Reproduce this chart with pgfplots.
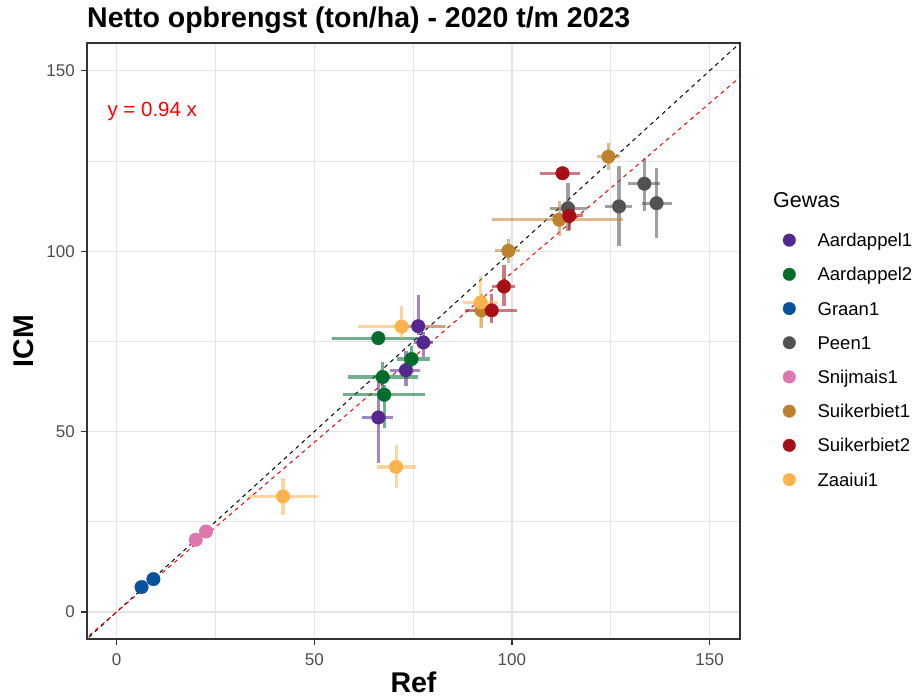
\documentclass[border=0pt]{standalone}
\usepackage{pgfplots}
\usepackage{pgfplotstable}
\pgfplotsset{compat=1.18}
\usepackage{fontspec}
\setmainfont{Liberation Sans}
\definecolor{cA1}{RGB}{84,39,143}
\definecolor{cA2}{RGB}{0,109,44}
\definecolor{cGr}{RGB}{8,81,156}
\definecolor{cPe}{RGB}{82,82,82}
\definecolor{cSn}{RGB}{222,119,174}
\definecolor{cS1}{RGB}{191,129,45}
\definecolor{cS2}{RGB}{165,15,21}
\definecolor{cZa}{RGB}{254,178,76}
\definecolor{tickgray}{RGB}{77,77,77}
\definecolor{axgray}{RGB}{51,51,51}
\definecolor{gridgray}{RGB}{228,228,228}

\pgfplotstableread{
x y xm xp ym yp
76.3 79.2 4.0 6.7 2.4 8.7
77.6 74.7 2.5 2.5 3.9 2.9
73.2 67.0 4.1 3.5 4.5 5.4
66.2 53.9 4.2 3.8 12.6 11.4
}\tAone
\pgfplotstableread{
x y xm xp ym yp
66.2 75.9 11.8 10.5 1.8 1.8
74.6 70.1 3.8 4.7 2.1 3.5
67.3 65.1 8.7 9.0 3.5 4.3
67.7 60.2 10.4 10.3 9.2 2.7
}\tAtwo
\pgfplotstableread{
x y xm xp ym yp
9.3 9.1 0.4 0.4 0.4 0.4
6.3 6.9 0.4 0.4 0.4 0.4
}\tGr
\pgfplotstableread{
x y xm xp ym yp
114.2 111.9 4.6 4.7 6.4 7.1
127.1 112.4 3.6 3.2 11.1 11.1
133.5 118.7 4.1 3.9 7.7 7.1
136.6 113.3 3.8 3.8 9.7 9.7
}\tPe
\pgfplotstableread{
x y xm xp ym yp
22.6 22.3 0.4 0.4 0.4 0.4
20.0 20.0 0.4 0.4 0.4 0.4
}\tSn
\pgfplotstableread{
x y xm xp ym yp
124.4 126.2 3.0 2.9 3.6 3.8
112.0 108.7 17.1 16.2 4.6 5.1
99.1 100.1 3.4 2.9 3.4 3.3
92.3 83.6 2.0 2.0 4.9 4.4
}\tSone
\pgfplotstableread{
x y xm xp ym yp
112.8 121.6 5.7 4.4 1.8 1.4
114.5 109.8 4.5 3.5 3.8 3.1
98.0 90.2 3.1 2.9 5.5 6.0
94.9 83.6 6.8 6.3 3.5 4.4
}\tStwo
\pgfplotstableread{
x y xm xp ym yp
72.1 79.1 11.0 11.2 3.1 5.6
70.7 40.2 4.9 5.0 5.8 6.2
42.1 32.0 8.8 8.9 5.0 5.1
92.1 85.8 4.4 4.4 7.0 7.2
}\tZa

\pgfplotsset{
  ebar/.style={only marks, mark=none, forget plot,
    error bars/.cd, x dir=both, y dir=both, x explicit, y explicit,
    error mark=none, error bar style={line width=3.2pt, #1, opacity=0.55, line cap=butt}},
  pts/.style={only marks, mark=*, mark size=6.8pt, forget plot,
    mark options={draw=#1, fill=#1, line width=0.3pt}},
  leg/.style={only marks, mark=*, mark size=6.3pt,
    mark options={draw=#1, fill=#1, line width=0.3pt}},
}

\begin{document}
\begin{tikzpicture}
\useasboundingbox (-87pt,-60pt) rectangle (827pt,639pt);
\begin{axis}[
  at={(0pt,0pt)}, anchor=south west,
  width=653pt, height=596pt, scale only axis,
  xmin=-7.5, xmax=157.7, ymin=-7.5, ymax=157.7,
  xtick={0,50,100,150}, ytick={0,50,100,150},
  minor xtick={25,75,125}, minor ytick={25,75,125},
  grid=both,
  major grid style={draw=gridgray, line width=1.3pt},
  minor grid style={draw=gridgray, line width=0.7pt},
  axis line style={draw=axgray, line width=1.2pt},
  tick style={draw=axgray, line width=1.2pt},
  tick align=outside, major tick length=6pt, minor tick length=0pt,
  tick pos=left,
  /pgf/number format/assume math mode=true,
  tick label style={font=\fontsize{17}{17}\selectfont, text=tickgray, inner sep=0pt},
  xticklabel style={anchor=base, yshift=-21pt},
  yticklabel style={anchor=east, xshift=-6pt},
  title={Netto opbrengst (ton/ha) - 2020 t/m 2023},
  title style={at={(axis description cs:0,1)}, anchor=base west, inner sep=0pt, yshift=9pt,
    font=\bfseries\fontsize{28.5}{28.5}\selectfont},
  xlabel={Ref}, ylabel={ICM},
  xlabel style={at={(axis description cs:0.5,0)}, anchor=base, inner sep=0pt, yshift=-54pt,
    font=\bfseries\fontsize{28.5}{28.5}\selectfont},
  ylabel style={at={(axis description cs:-0.08116,0.5)}, anchor=base, inner sep=0pt,
    font=\bfseries\fontsize{28.5}{28.5}\selectfont},
  clip mode=individual,
  legend style={draw=none, fill=none, at={(axis description cs:1.06585,0.68037)}, anchor=north west,
    inner sep=0pt, outer sep=0pt, row sep=20.9pt, column sep=22pt,
    font=\fontsize{18.5}{18.5}\selectfont,
    nodes={inner sep=0pt, text height=13.3pt, text depth=0pt, text=black}},
  legend cell align=left,
  legend image code/.code={\draw[#1] plot coordinates {(0pt,0pt)};},
]
% reference lines
\addplot[forget plot, black, line width=1pt, dash pattern=on 4pt off 4pt] coordinates {(-10,-10) (170,170)};
\addplot[forget plot, red, line width=1pt, dash pattern=on 4pt off 4pt] coordinates {(-10,-9.4) (170,159.8)};
% error bars
\addplot[ebar=cA1] table[x=x, y=y, x error plus=xp, x error minus=xm, y error plus=yp, y error minus=ym] {\tAone};
\addplot[ebar=cA2] table[x=x, y=y, x error plus=xp, x error minus=xm, y error plus=yp, y error minus=ym] {\tAtwo};
\addplot[ebar=cGr] table[x=x, y=y, x error plus=xp, x error minus=xm, y error plus=yp, y error minus=ym] {\tGr};
\addplot[ebar=cPe] table[x=x, y=y, x error plus=xp, x error minus=xm, y error plus=yp, y error minus=ym] {\tPe};
\addplot[ebar=cSn] table[x=x, y=y, x error plus=xp, x error minus=xm, y error plus=yp, y error minus=ym] {\tSn};
\addplot[ebar=cS1] table[x=x, y=y, x error plus=xp, x error minus=xm, y error plus=yp, y error minus=ym] {\tSone};
\addplot[ebar=cS2] table[x=x, y=y, x error plus=xp, x error minus=xm, y error plus=yp, y error minus=ym] {\tStwo};
\addplot[ebar=cZa] table[x=x, y=y, x error plus=xp, x error minus=xm, y error plus=yp, y error minus=ym] {\tZa};
% points
\addplot[pts=cA1] table[x=x,y=y] {\tAone};
\addplot[pts=cA2] table[x=x,y=y] {\tAtwo};
\addplot[pts=cGr] table[x=x,y=y] {\tGr};
\addplot[pts=cPe] table[x=x,y=y] {\tPe};
\addplot[pts=cSn] table[x=x,y=y] {\tSn};
\addplot[pts=cS1] table[x=x,y=y] {\tSone};
\addplot[pts=cS2] table[x=x,y=y] {\tStwo};
\addplot[pts=cZa] table[x=x,y=y] {\tZa};
% legend
\addlegendimage{leg=cA1}\addlegendentry{Aardappel1}
\addlegendimage{leg=cA2}\addlegendentry{Aardappel2}
\addlegendimage{leg=cGr}\addlegendentry{Graan1}
\addlegendimage{leg=cPe}\addlegendentry{Peen1}
\addlegendimage{leg=cSn}\addlegendentry{Snijmais1}
\addlegendimage{leg=cS1}\addlegendentry{Suikerbiet1}
\addlegendimage{leg=cS2}\addlegendentry{Suikerbiet2}
\addlegendimage{leg=cZa}\addlegendentry{Zaaiui1}
\node[anchor=base west, inner sep=0pt, text=red, font=\fontsize{20.5}{20.5}\selectfont]
  at (axis description cs:0.03109,0.87634) {y = 0.94 x};
\node[anchor=base west, inner sep=0pt, text=black, font=\fontsize{21.5}{21.5}\selectfont]
  at (axis description cs:1.05054,0.72399) {Gewas};
\end{axis}
\end{tikzpicture}
\end{document}
